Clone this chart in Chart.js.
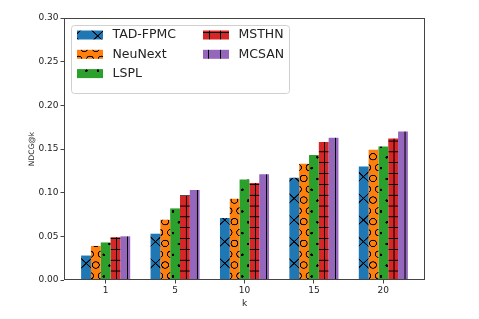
<!DOCTYPE html>
<html>
<head>
<meta charset="utf-8">
<script src="https://cdn.jsdelivr.net/npm/chart.js@4.4.0/dist/chart.umd.min.js"></script>
<style>
  html, body { margin: 0; padding: 0; background: #fff; }
</style>
</head>
<body>
<canvas id="chart" width="479" height="319"></canvas>
<script>
const kValues = ['1', '5', '10', '15', '20'];
const methodNames = ['TAD-FPMC', 'NeuNext', 'LSPL', 'MSTHN', 'MCSAN'];
const tadFpmc = [0.028, 0.053, 0.071, 0.117, 0.130];
const neuNext = [0.039, 0.069, 0.093, 0.133, 0.149];
const lspl = [0.043, 0.082, 0.115, 0.143, 0.153];
const msthn = [0.049, 0.097, 0.111, 0.158, 0.162];
const mcsan = [0.050, 0.103, 0.121, 0.163, 0.170];
const yTicks = [0, 0.05, 0.10, 0.15, 0.20, 0.25, 0.30];

const methodValues = [tadFpmc, neuNext, lspl, msthn, mcsan];
const methodColors = ['#1f77b4', '#ff7f0e', '#2ca02c', '#d62728', '#9467bd'];
const methodHatches = ['x', 'O', '.', '+', '|'];

const canvas = document.getElementById('chart');
const ctx = canvas.getContext('2d');

// hatch cell sizes in screen px (matplotlib hatch unit squeezed to this picture)
const cellW = 11.55;
const cellH = 10.83;

function makeHatch(kind, color) {
  let w, h, ox, oy;
  if (kind === 'x') { w = cellW * 2; h = cellH * 2; ox = 363.4 - w / 2; oy = 176.7 - h / 2; }
  else if (kind === 'O') { w = cellW; h = cellH * 2; ox = 373; oy = 156.7; }
  else if (kind === '.') { w = cellW; h = cellH * 2; ox = 386.7; oy = 157.3; }
  else if (kind === '+') { w = cellW; h = cellH; ox = 394 - w / 2; oy = 162.7 - h / 2; }
  else { w = cellW; h = cellH; ox = 405 - w / 2; oy = 0; }

  const k = 4;
  const tile = document.createElement('canvas');
  tile.width = Math.round(w * k);
  tile.height = Math.round(h * k);
  const t = tile.getContext('2d');
  t.scale(tile.width / w, tile.height / h);
  t.fillStyle = color;
  t.fillRect(0, 0, w, h);
  t.strokeStyle = '#000';
  t.fillStyle = '#000';
  t.lineWidth = 1;

  const spots = [[0, 0], [w, 0], [0, h], [w, h], [w / 2, h / 2]];
  if (kind === 'x') {
    t.beginPath();
    t.moveTo(-w, -h); t.lineTo(2 * w, 2 * h);
    t.moveTo(-w, 2 * h); t.lineTo(2 * w, -h);
    t.stroke();
  } else if (kind === 'O') {
    spots.forEach(([cx, cy]) => {
      t.beginPath();
      t.ellipse(cx, cy, 3.4, 3.2, 0, 0, Math.PI * 2);
      t.stroke();
    });
  } else if (kind === '.') {
    spots.forEach(([cx, cy]) => {
      t.beginPath();
      t.arc(cx, cy, 1.3, 0, Math.PI * 2);
      t.fill();
    });
  } else if (kind === '+') {
    t.beginPath();
    t.moveTo(w / 2, 0); t.lineTo(w / 2, h);
    t.moveTo(0, h / 2); t.lineTo(w, h / 2);
    t.stroke();
  } else {
    t.beginPath();
    t.moveTo(w / 2, 0); t.lineTo(w / 2, h);
    t.stroke();
  }

  const pattern = ctx.createPattern(tile, 'repeat');
  pattern.setTransform(new DOMMatrix().translate(ox, oy).scale(w / tile.width, h / tile.height));
  return pattern;
}

const hatchFills = methodHatches.map((h, i) => makeHatch(h, methodColors[i]));

const frameAndLegend = {
  id: 'frameAndLegend',
  afterDraw(chart) {
    const c = chart.ctx;
    const a = chart.chartArea;
    c.save();
    c.strokeStyle = '#444';
    c.lineWidth = 1;
    c.strokeRect(Math.round(a.left) + 0.5, Math.round(a.top) + 0.5,
      Math.round(a.right - a.left) - 1, Math.round(a.bottom - a.top) - 1);

    // legend box, two columns
    const bx = 71.5, by = 25.5, bw = 218, bh = 68;
    c.beginPath();
    c.roundRect(bx, by, bw, bh, 3);
    c.fillStyle = 'rgba(255,255,255,0.8)';
    c.fill();
    c.strokeStyle = '#d0d0d0';
    c.stroke();

    c.font = '12.5px "DejaVu Sans"';
    c.textBaseline = 'middle';
    c.textAlign = 'left';
    chart.data.datasets.forEach((ds, i) => {
      const col = i < 3 ? 0 : 1;
      const row = i < 3 ? i : i - 3;
      const sx = col === 0 ? 77 : 203;
      const cy = 35 + row * 19.3;
      c.fillStyle = ds.backgroundColor;
      c.fillRect(sx, cy - 4.5, 26, 9);
      c.fillStyle = '#222';
      c.fillText(ds.label, sx + 35.5, cy);
    });
    c.restore();
  }
};

new Chart(ctx, {
  type: 'bar',
  data: {
    datasets: methodNames.map((name, i) => ({
      label: name,
      data: methodValues[i].map((v, j) => ({ x: j, y: v })),
      backgroundColor: hatchFills[i],
      borderWidth: 0,
      categoryPercentage: 0.707,
      barPercentage: 1
    }))
  },
  options: {
    responsive: false,
    animation: false,
    devicePixelRatio: 1,
    layout: { padding: { top: 18, right: 54, left: 0, bottom: 0 } },
    plugins: {
      legend: { display: false },
      tooltip: { enabled: false }
    },
    scales: {
      x: {
        type: 'linear',
        offset: false,
        min: -0.6,
        max: 4.6,
        afterBuildTicks: axis => { axis.ticks = kValues.map((k, i) => ({ value: i })); },
        afterFit: axis => { axis.height = 39; },
        ticks: {
          callback: v => kValues[v],
          font: { family: 'DejaVu Sans', size: 9 },
          color: '#222',
          padding: 2,
          maxRotation: 0
        },
        grid: { offset: false, drawOnChartArea: false, drawTicks: true, tickLength: 3.5, color: '#444' },
        border: { display: false },
        title: {
          display: true,
          text: 'k',
          font: { family: 'DejaVu Sans', size: 9 },
          color: '#222',
          padding: { top: 0, bottom: 9.8 }
        }
      },
      y: {
        min: 0,
        max: 0.3,
        afterBuildTicks: axis => { axis.ticks = yTicks.map(v => ({ value: v })); },
        afterFit: axis => { axis.width = 64; },
        ticks: {
          callback: v => v.toFixed(2),
          font: { family: 'DejaVu Sans', size: 9 },
          color: '#222',
          padding: 2
        },
        grid: { drawOnChartArea: false, drawTicks: true, tickLength: 3.5, color: '#444' },
        border: { display: false },
        title: {
          display: true,
          text: 'NDCG@k',
          font: { family: 'DejaVu Sans', size: 7.5 },
          color: '#222',
          padding: { top: 27.3, bottom: 0 }
        }
      }
    }
  },
  plugins: [frameAndLegend]
});
</script>
</body>
</html>
